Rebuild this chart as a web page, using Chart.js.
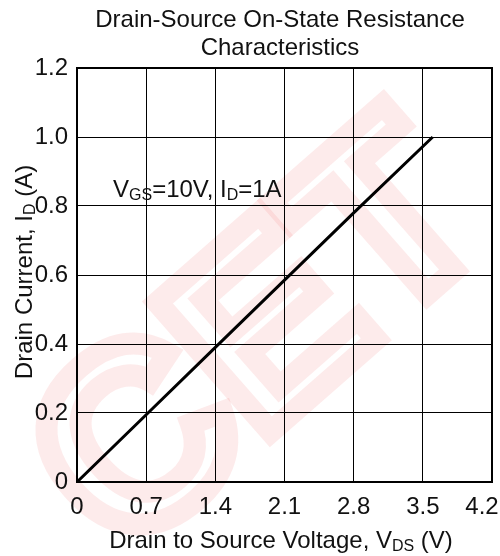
<!DOCTYPE html>
<html>
<head>
<meta charset="utf-8">
<script src="https://cdn.jsdelivr.net/npm/chart.js@4"></script>
<style>
  html, body { margin: 0; padding: 0; background: #fff; }
  #wrap { width: 500px; height: 556px; }
</style>
</head>
<body>
<div id="wrap"><canvas id="myChart" width="500" height="556"></canvas></div>
<script>
// values
const vds = [0, 0.7, 1.4, 2.1, 2.8, 3.6]
const idCurrent = [0, 0.195, 0.39, 0.585, 0.78, 1.0]
const xTicks = [0, 0.7, 1.4, 2.1, 2.8, 3.5, 4.2]
const xTickLabels = ["0", "0.7", "1.4", "2.1", "2.8", "3.5", "4.2   "] // last one nudged left like the original
const yTicks = [0, 0.2, 0.4, 0.6, 0.8, 1.0, 1.2]
const yTickLabels = ["0", "0.2", "0.4", "0.6", "0.8", "1.0", "1.2"]
const titleLines = ["Drain-Source On-State Resistance", "Characteristics"]

const FONT = "Arial, 'Liberation Sans', sans-serif"
const SIZE = 24

// draws text pieces like [["V"], ["GS", true], ["=10V"]] with subscripts
function drawParts(ctx, parts, x, y, size, align) {
    const sub = Math.round(size * 0.66)
    let total = 0
    parts.forEach(function (p) {
        ctx.font = (p[1] ? sub : size) + "px " + FONT
        total += ctx.measureText(p[0]).width
    })
    let cx = align === "center" ? x - total / 2 : x
    parts.forEach(function (p) {
        ctx.font = (p[1] ? sub : size) + "px " + FONT
        ctx.fillText(p[0], cx, p[1] ? y + size * 0.12 : y)
        cx += ctx.measureText(p[0]).width
    })
}

const extras = {
    id: "extras",
    beforeDraw(chart) {
        const ctx = chart.ctx
        ctx.save()
        // faint logo watermark behind the chart
        ctx.translate(265, 345)
        ctx.rotate(-0.72)
        ctx.font = "bold 250px " + FONT
        ctx.textAlign = "center"
        ctx.textBaseline = "middle"
        ctx.lineWidth = 22
        ctx.strokeStyle = "rgba(240, 70, 70, 0.11)"
        ctx.strokeText("CET", 0, 0)
        ctx.restore()
    },
    afterDraw(chart) {
        const ctx = chart.ctx
        const a = chart.chartArea
        ctx.save()
        ctx.fillStyle = "#111"
        ctx.textBaseline = "alphabetic"
        // title, centred over the plot
        ctx.font = SIZE + "px " + FONT
        ctx.textAlign = "center"
        ctx.fillText(titleLines[0], 280, 27)
        ctx.fillText(titleLines[1], 280, 55)
        ctx.textAlign = "left"
        // annotation
        drawParts(ctx, [["V"], ["GS", true], ["=10V, I"], ["D", true], ["=1A"]], 113, 197, SIZE, "left")
        // x axis title
        drawParts(ctx, [["Drain to Source Voltage, V"], ["DS", true], [" (V)"]], 281, 548, SIZE, "center")
        // y axis title
        ctx.translate(32, 272)
        ctx.rotate(-Math.PI / 2)
        drawParts(ctx, [["Drain Current, I"], ["D", true], [" (A)"]], 0, 0, SIZE, "center")
        ctx.restore()
        // frame
        ctx.save()
        ctx.strokeStyle = "#000"
        ctx.lineWidth = 2
        ctx.strokeRect(a.left, a.top, a.right - a.left, a.bottom - a.top)
        ctx.restore()
    }
}

const ctx = document.getElementById("myChart")

new Chart(ctx, {
    type: "line",
    data: {
        datasets: [{
            label: "ID",
            data: vds.map(function (v, i) { return { x: v, y: idCurrent[i] } }),
            borderColor: "#000",
            borderWidth: 3,
            pointRadius: 0,
            tension: 0,
            fill: false
        }]
    },
    options: {
        responsive: false,
        animation: false,
        layout: { padding: { left: 0, right: 8, top: 68, bottom: 0 } },
        plugins: {
            legend: { display: false },
            tooltip: { enabled: false },
            title: { display: false }
        },
        scales: {
            x: {
                type: "linear",
                min: 0,
                max: 4.2,
                afterBuildTicks: function (s) { s.ticks = xTicks.map(function (v) { return { value: v } }) },
                afterFit: function (s) { s.height = 74; s.paddingLeft = 0; s.paddingRight = 0 },
                grid: { color: "#000", lineWidth: 1, drawTicks: false },
                border: { display: false },
                ticks: {
                    color: "#111",
                    padding: 11,
                    maxRotation: 0,
                    autoSkip: false,
                    font: { family: FONT, size: SIZE },
                    callback: function (v, i) { return xTickLabels[i] }
                }
            },
            y: {
                type: "linear",
                min: 0,
                max: 1.2,
                afterBuildTicks: function (s) { s.ticks = yTicks.map(function (v) { return { value: v } }) },
                afterFit: function (s) { s.width = 77; s.paddingTop = 0; s.paddingBottom = 0 },
                grid: { color: "#000", lineWidth: 1, drawTicks: false },
                border: { display: false },
                ticks: {
                    color: "#111",
                    padding: 9,
                    autoSkip: false,
                    font: { family: FONT, size: SIZE },
                    callback: function (v, i) { return yTickLabels[i] }
                }
            }
        }
    },
    plugins: [extras]
})
</script>
</body>
</html>
